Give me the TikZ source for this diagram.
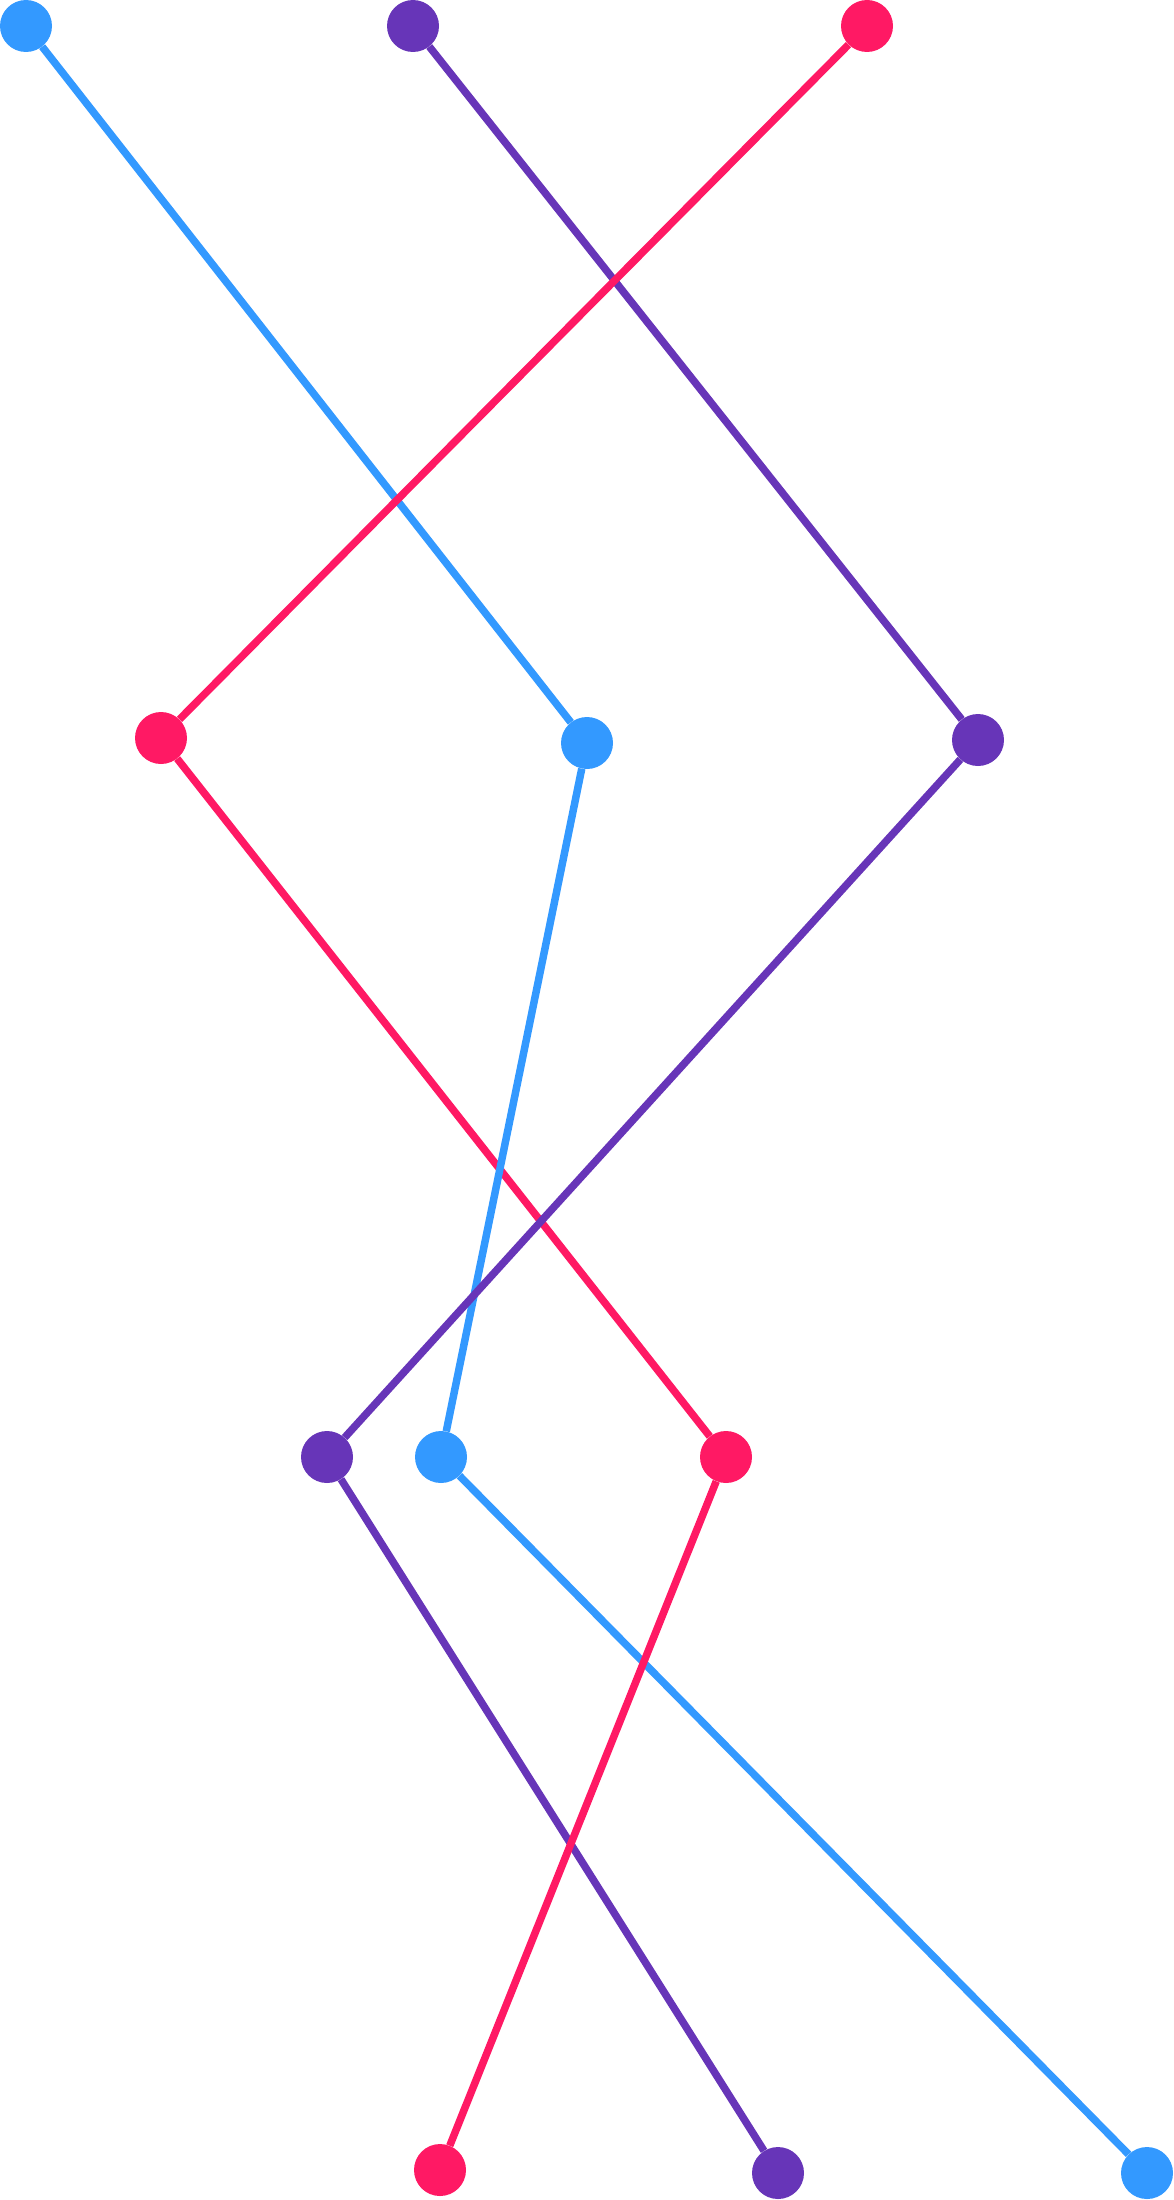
\documentclass[tikz,border=0pt]{standalone}
\definecolor{cblue}{RGB}{51,153,255}
\definecolor{cpurple}{RGB}{103,53,184}
\definecolor{cpink}{RGB}{255,25,100}
\tikzset{
  dot/.style={circle,fill=#1,draw=none,inner sep=0pt,minimum size=52pt},
  link/.style={draw=#1,line width=7.5pt},
}
\begin{document}
\begin{tikzpicture}[x=1pt,y=-1pt]
\useasboundingbox (0,0) rectangle (1174,2200);
\node[dot=cblue]   (b1) at (26,26) {};
\node[dot=cpurple] (u1) at (413,26) {};
\node[dot=cpink]   (k1) at (867,26) {};
\node[dot=cpink]   (k2) at (161,738) {};
\node[dot=cblue]   (b2) at (587,743) {};
\node[dot=cpurple] (u2) at (978,740) {};
\node[dot=cpurple] (u3) at (327,1457) {};
\node[dot=cblue]   (b3) at (441,1457) {};
\node[dot=cpink]   (k3) at (726,1457) {};
\node[dot=cpink]   (k4) at (440,2170) {};
\node[dot=cpurple] (u4) at (778,2173) {};
\node[dot=cblue]   (b4) at (1147,2173) {};
\draw[link=cblue] (b1) -- (b2);
\draw[link=cpurple] (u1) -- (u2);
\draw[link=cpink] (k1) -- (k2);
\draw[link=cpink] (k2) -- (k3);
\draw[link=cblue] (b2) -- (b3);
\draw[link=cpurple] (u2) -- (u3);
\draw[link=cpurple] (u3) -- (u4);
\draw[link=cblue] (b3) -- (b4);
\draw[link=cpink] (k3) -- (k4);
\end{tikzpicture}
\end{document}
